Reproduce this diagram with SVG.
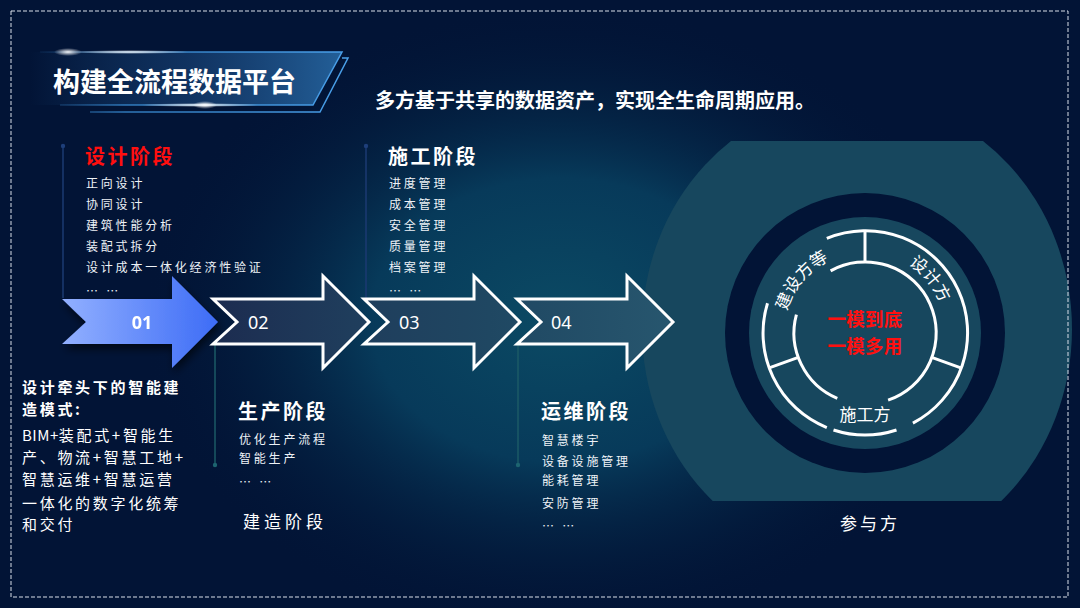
<svg xmlns="http://www.w3.org/2000/svg" width="1080" height="608" viewBox="0 0 1080 608">
<defs>
<style>
.t{font-family:"Noto Sans CJK SC","Noto Sans",sans-serif;fill:#fff}
.h{font-size:20px;font-weight:700;letter-spacing:2.5px}
.i{font-size:12px;letter-spacing:2.8px;fill:#eef2f7}
.n{font-size:15px;letter-spacing:2.7px}
.num{font-family:"Noto Sans","DejaVu Sans",sans-serif;font-size:18px;fill:#fff}
.ring{fill:none;stroke:#fff;stroke-width:3}
.vline{stroke-width:1.5;fill:none}
.arr{stroke:#fff;stroke-width:3;stroke-linejoin:miter;fill:url(#arrFill)}
.red{fill:#ff1010;font-size:18.5px;font-weight:700;letter-spacing:0.3px}
</style>
<radialGradient id="glow" cx="560" cy="320" r="420" gradientUnits="userSpaceOnUse" gradientTransform="translate(560 320) scale(1 0.75) translate(-560 -320)">
<stop offset="0" stop-color="#0b4a64"/>
<stop offset="0.45" stop-color="#073a5a"/>
<stop offset="1" stop-color="#021436" stop-opacity="0"/>
</radialGradient>
<linearGradient id="banner" x1="30" y1="0" x2="342" y2="0" gradientUnits="userSpaceOnUse">
<stop offset="0" stop-color="#1a4c82" stop-opacity="0"/>
<stop offset="0.5" stop-color="#163f72" stop-opacity="0.7"/>
<stop offset="1" stop-color="#235f98"/>
</linearGradient>
<linearGradient id="bannerLine" x1="30" y1="0" x2="348" y2="0" gradientUnits="userSpaceOnUse">
<stop offset="0" stop-color="#3a8fd8" stop-opacity="0"/>
<stop offset="0.3" stop-color="#3a8fd8" stop-opacity="0.8"/>
<stop offset="1" stop-color="#4aa0ea"/>
</linearGradient>
<radialGradient id="flare" cx="0.5" cy="0.5" r="0.5">
<stop offset="0" stop-color="#ffffff" stop-opacity="0.95"/>
<stop offset="1" stop-color="#ffffff" stop-opacity="0"/>
</radialGradient>
<linearGradient id="blue" x1="0" y1="0" x2="1" y2="0">
<stop offset="0" stop-color="#92b0ff"/>
<stop offset="1" stop-color="#3d6cf6"/>
</linearGradient>
<linearGradient id="arrFill" x1="213" y1="0" x2="673" y2="0" gradientUnits="userSpaceOnUse">
<stop offset="0" stop-color="#1c2c50"/>
<stop offset="0.3" stop-color="#1f3d5c"/>
<stop offset="0.6" stop-color="#1f4762"/>
<stop offset="1" stop-color="#27566e"/>
</linearGradient>
<filter id="shadow" x="-20%" y="-20%" width="150%" height="160%">
<feGaussianBlur in="SourceAlpha" stdDeviation="4"/>
<feOffset dx="2" dy="5"/>
<feComponentTransfer><feFuncA type="linear" slope="0.6"/></feComponentTransfer>
<feMerge><feMergeNode/><feMergeNode in="SourceGraphic"/></feMerge>
</filter>
<clipPath id="clipBig"><rect x="600" y="141" width="480" height="360"/></clipPath>
<path id="arcText" d="M784,333 A81,81 0 0 1 946,333"/>
</defs>

<rect width="1080" height="608" fill="#021436"/>
<rect width="1080" height="608" fill="url(#glow)"/>

<g id="participants-shape">
<ellipse cx="857" cy="329" rx="215" ry="232" fill="#17475e" clip-path="url(#clipBig)"/>
<circle cx="865" cy="333" r="140" fill="#021436"/>
<circle cx="865" cy="333" r="116" fill="#17475e"/>
</g>

<g id="title">
<polygon points="30,52 342,52 313,105 30,105" fill="url(#banner)"/>
<polyline points="40,52 342,52 313,105 60,105" fill="none" stroke="url(#bannerLine)" stroke-width="1.5"/>
<polyline points="342,58 348,58 320,112 90,112" fill="none" stroke="url(#bannerLine)" stroke-width="1.5"/>
<ellipse cx="130" cy="52" rx="60" ry="2" fill="url(#flare)"/>
<ellipse cx="68" cy="52" rx="14" ry="4" fill="url(#flare)"/>
<ellipse cx="200" cy="105" rx="60" ry="2" fill="url(#flare)"/>
<ellipse cx="205" cy="105" rx="12" ry="4" fill="url(#flare)"/>
<text class="t" x="53" y="92" font-size="27" font-weight="700">构建全流程数据平台</text>
</g>

<g id="subtitle">
<text class="t" x="375" y="108" font-size="20" font-weight="700">多方基于共享的数据资产，实现全生命周期应用。</text>
</g>

<g id="connectors">
<line class="vline" x1="63" y1="146" x2="63" y2="298" stroke="#1b3a72"/>
<circle cx="63" cy="146" r="2.2" fill="#1e3f7a"/>
<line class="vline" x1="366" y1="146" x2="366" y2="298" stroke="#1b3a72"/>
<circle cx="366" cy="146" r="2.2" fill="#1e3f7a"/>
<line class="vline" x1="215" y1="345" x2="215" y2="465" stroke="#1b5a66"/>
<circle cx="215" cy="465" r="2.2" fill="#1d6470"/>
<line class="vline" x1="518" y1="345" x2="518" y2="465" stroke="#1b5a66"/>
<circle cx="518" cy="465" r="2.2" fill="#1d6470"/>
</g>

<g id="stage-design">
<text class="t h" x="85" y="164" style="fill:#ff0f0f">设计阶段</text>
<text class="t i" x="86" y="187.5">正向设计</text>
<text class="t i" x="86" y="208.5">协同设计</text>
<text class="t i" x="86" y="229.5">建筑性能分析</text>
<text class="t i" x="86" y="250.5">装配式拆分</text>
<text class="t i" x="86" y="271.5">设计成本一体化经济性验证</text>
<text class="t i" x="86" y="296">… …</text>
</g>

<g id="stage-construction">
<text class="t h" x="388" y="164">施工阶段</text>
<text class="t i" x="389" y="187.5">进度管理</text>
<text class="t i" x="389" y="208.5">成本管理</text>
<text class="t i" x="389" y="230">安全管理</text>
<text class="t i" x="389" y="251">质量管理</text>
<text class="t i" x="389" y="272">档案管理</text>
<text class="t i" x="389" y="296">… …</text>
</g>

<g id="arrow-01" filter="url(#shadow)">
<polygon points="62,299 172,299 172,276 218,322 172,368 172,344 62,344 86,322" fill="url(#blue)"/>
<text class="num" x="142" y="328.5" font-weight="700" text-anchor="middle">01</text>
</g>
<g id="arrow-02">
<polygon class="arr" points="213,299 323,299 323,276 369,322 323,368 323,344 213,344 237,322"/>
<text class="num" x="248" y="328.5">02</text>
</g>
<g id="arrow-03">
<polygon class="arr" points="364,299 474,299 474,276 520,322 474,368 474,344 364,344 388,322"/>
<text class="num" x="399" y="328.5">03</text>
</g>
<g id="arrow-04">
<polygon class="arr" points="517,299 627,299 627,276 673,322 627,368 627,344 517,344 541,322"/>
<text class="num" x="551" y="328.5">04</text>
</g>

<g id="stage-production">
<text class="t h" x="238" y="419">生产阶段</text>
<text class="t i" x="239" y="443.5">优化生产流程</text>
<text class="t i" x="239" y="462.5">智能生产</text>
<text class="t i" x="239" y="487">… …</text>
<text class="t" x="243" y="528" font-size="17" letter-spacing="4">建造阶段</text>
</g>

<g id="stage-operation">
<text class="t h" x="541" y="419">运维阶段</text>
<text class="t i" x="542" y="444.5">智慧楼宇</text>
<text class="t i" x="542" y="465.5">设备设施管理</text>
<text class="t i" x="542" y="485">能耗管理</text>
<text class="t i" x="542" y="507.5">安防管理</text>
<text class="t i" x="542" y="531">… …</text>
</g>

<g id="left-note">
<text class="t n" x="22" y="393" font-weight="700">设计牵头下的智能建</text>
<text class="t n" x="22" y="415" font-weight="700">造模式:</text>
<text class="t n" x="22" y="441"><tspan letter-spacing="0.5">BIM+</tspan>装配式+智能生</text>
<text class="t n" x="22" y="463">产、物流+智慧工地+</text>
<text class="t n" x="22" y="485">智慧运维+智慧运营</text>
<text class="t n" x="22" y="509">一体化的数字化统筹</text>
<text class="t n" x="22" y="530">和交付</text>
</g>

<g id="participants">
<path class="ring" d="M826.8,238.4 A102,102 0 0 1 912.9,423.1"/>
<path class="ring" d="M896.5,430 A102,102 0 0 1 833.5,430"/>
<path class="ring" d="M826.8,427.6 A102,102 0 0 1 767.5,303.2"/>
<path class="ring" d="M830.6,270.9 A71,71 0 1 1 888.1,400.1"/>
<path class="ring" d="M837.3,398.4 A71,71 0 0 1 796.4,314.6"/>
<line class="ring" x1="865" y1="262" x2="865" y2="231"/>
<line class="ring" x1="931.7" y1="357.3" x2="960.8" y2="367.9"/>
<line class="ring" x1="798.3" y1="357.3" x2="769.2" y2="367.9"/>
<text class="t" font-size="17"><textPath href="#arcText" startOffset="56" text-anchor="middle">建设方等</textPath></text>
<text class="t" font-size="17"><textPath href="#arcText" startOffset="198" text-anchor="middle">设计方</textPath></text>
<text class="t" x="865" y="421" font-size="17" text-anchor="middle">施工方</text>
<text class="t red" x="865" y="326" text-anchor="middle">一模到底</text>
<text class="t red" x="865" y="353" text-anchor="middle">一模多用</text>
<text class="t" x="870" y="530" font-size="17" letter-spacing="3" text-anchor="middle">参与方</text>
</g>

<rect x="11" y="11" width="1057" height="586" fill="none" stroke="#d8dee8" stroke-width="1" stroke-dasharray="4 2"/>
</svg>
